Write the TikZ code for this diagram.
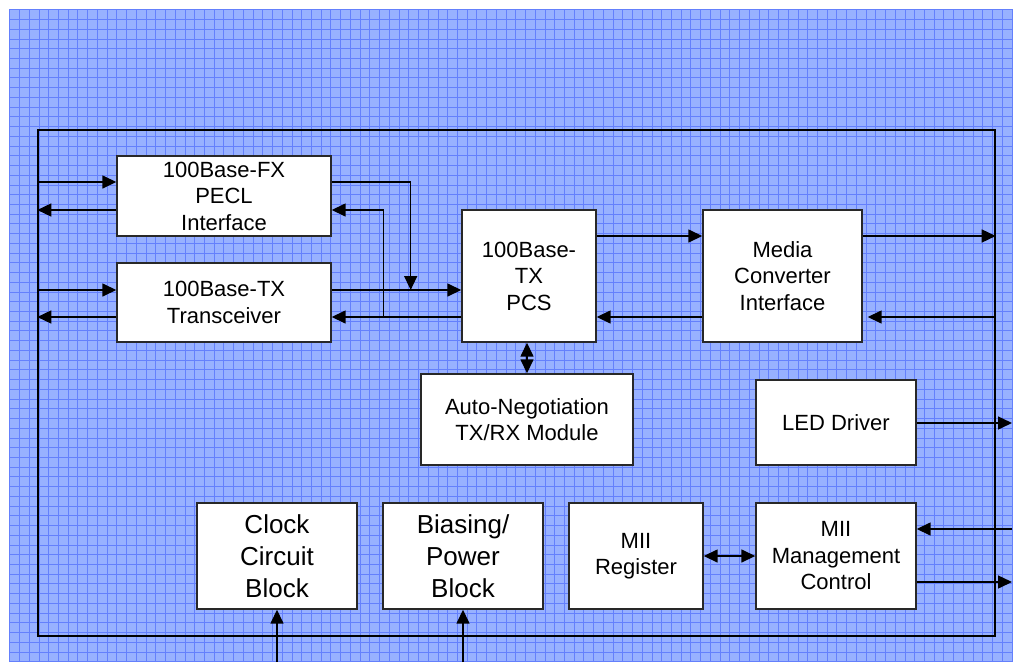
\documentclass[tikz,border=0pt]{standalone}
\usepackage{fontspec}
\setmainfont{Liberation Sans}
\usetikzlibrary{arrows.meta}
\definecolor{gridbg}{RGB}{152,177,255}
\definecolor{gridln}{RGB}{100,128,252}
\definecolor{boxline}{RGB}{40,40,40}

\begin{document}
\begin{tikzpicture}[x=1pt, y=-1pt]
\tikzstyle{block} = [rectangle, fill=white, draw=boxline, line width=1.4pt, align=center, inner sep=0pt, font={\fontsize{22}{26.5}\selectfont}]
\tikzstyle{bigblock} = [block, minimum width=160pt, minimum height=106pt, font={\fontsize{26}{32}\selectfont}]
\tikzstyle{arrow} = [line width=1.5pt, -{Triangle[length=14pt, width=13pt]}]
\tikzstyle{biarrow} = [line width=1.5pt, {Triangle[length=14pt, width=13pt]}-{Triangle[length=14pt, width=13pt]}]
%
\useasboundingbox (0,0) rectangle (1013,662);
\fill[gridbg] (9.3,9.7) rectangle (1013,662);
\draw[gridln, line width=0.7pt, step=9.73pt] (9.3,9.7) grid (1013,662);
%
\node (frame) [draw, line width=1.4pt, minimum width=957pt, minimum height=506pt, inner sep=0pt] at (516.5,383) {};
\node (fx)    [block, minimum width=214pt, minimum height=80pt]  at (224,196)   {100Base-FX\\PECL\\Interface};
\node (tx)    [block, minimum width=214pt, minimum height=79pt]  at (224,302.5) {100Base-TX\\Transceiver};
\node (pcs)   [block, minimum width=134pt, minimum height=132pt] at (529,276)   {100Base-\\TX\\PCS};
\node (media) [block, minimum width=159pt, minimum height=132pt] at (782.5,276) {Media\\Converter\\Interface};
\node (auto)  [block, minimum width=212pt, minimum height=91pt]  at (527,419.5) {Auto-Negotiation\\TX/RX Module};
\node (led)   [block, minimum width=160pt, minimum height=85pt]  at (836,422.5) {LED Driver};
\node (reg)   [block, minimum width=134pt, minimum height=106pt] at (636,556)   {MII\\Register};
\node (mgmt)  [block, minimum width=160pt, minimum height=106pt] at (836,556)   {MII\\Management\\Control};
\node (clock) [bigblock] at (277,556) {Clock\\Circuit\\Block};
\node (bias)  [bigblock] at (463,556) {Biasing/\\Power\\Block};
%
\coordinate (fxin)   at ([yshift=14pt]fx.west);
\coordinate (fxback) at ([yshift=-14pt]fx.west);
\coordinate (fxout)  at ([yshift=14pt]fx.east);
\coordinate (fxret)  at ([yshift=-14pt]fx.east);
\coordinate (txin)   at ([yshift=12.5pt]tx.west);
\coordinate (txback) at ([yshift=-14.5pt]tx.west);
\coordinate (txout)  at ([yshift=12.5pt]tx.east);
\coordinate (txret)  at ([yshift=-14.5pt]tx.east);
\coordinate (merge)  at ([xshift=79pt]txout);
\coordinate (split)  at ([xshift=52pt]txret);
\coordinate (pcsout) at ([yshift=40pt]pcs.east);
\coordinate (mout)   at ([yshift=40pt]media.east);
\coordinate (mgin)   at ([yshift=27pt]mgmt.east);
\coordinate (mgout)  at ([yshift=-26pt]mgmt.east);
\coordinate (edge)   at (1012,0);
\coordinate (bottom) at (0,662);
%
\draw [arrow] (frame.west |- fxin) -- (fxin);
\draw [arrow] (fxback) -- (frame.west |- fxback);
\draw [arrow] (frame.west |- txin) -- (txin);
\draw [arrow] (txback) -- (frame.west |- txback);
\draw [arrow] (fxout) -| (merge);
\draw [arrow] (txout) -- (txout -| pcs.west);
\draw [arrow] (txret -| pcs.west) -- (txret);
\draw [arrow] (split) |- (fxret);
\draw [arrow] (pcsout) -- (pcsout -| media.west);
\draw [arrow] (txret -| media.west) -- (txret -| pcs.east);
\draw [arrow] (mout) -- (mout -| frame.east);
\draw [arrow, shorten >=5pt] (txret -| frame.east) -- (txret -| media.east);
\draw [biarrow] (auto.north) -- (auto.north |- pcs.south);
\draw [arrow] ([yshift=-0.5pt]led.east) -- ([yshift=-0.5pt]led.east -| edge);
\draw [arrow] (mgin -| edge) -- (mgin);
\draw [arrow] (mgout) -- (mgout -| edge);
\draw [biarrow] (reg.east) -- (mgmt.west);
\draw [arrow] (clock.south |- bottom) -- (clock.south);
\draw [arrow] (bias.south |- bottom) -- (bias.south);
\end{tikzpicture}
\end{document}
